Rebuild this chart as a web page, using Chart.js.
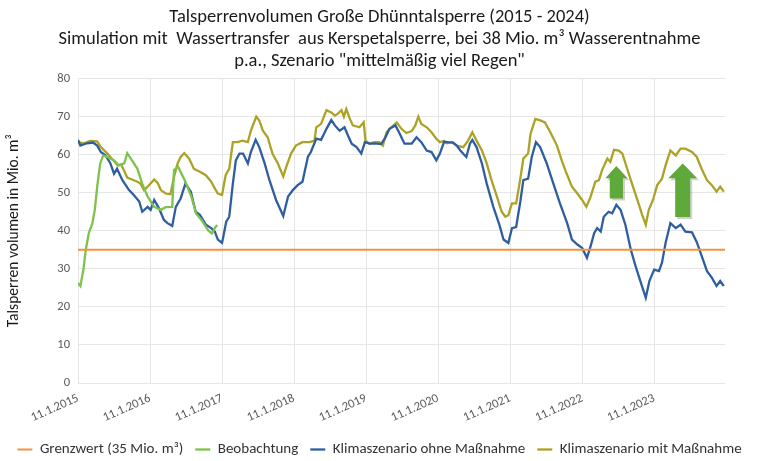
<!DOCTYPE html>
<html>
<head>
<meta charset="utf-8">
<script src="https://cdn.jsdelivr.net/npm/chart.js@4"></script>
<style>
  html, body { margin: 0; padding: 0; background: #fff; }
  #wrap { width: 759px; height: 461px; }
</style>
</head>
<body>
<div id="wrap"><canvas id="myChart" width="759" height="461"></canvas></div>
<script>
// x values are months since 11.1.2015
const yearTicks = ['11.1.2015', '11.1.2016', '11.1.2017', '11.1.2018', '11.1.2019', '11.1.2020', '11.1.2021', '11.1.2022', '11.1.2023'];
const grenzwert = 35;
const lastMonth = 107.8;

const greenMonths = [0, 0.4, 0.9, 1.3, 1.8, 2.4, 2.8, 3.2, 3.7, 4.2, 4.9, 6.0, 6.8, 7.7, 8.2, 9.0, 9.9, 10.7, 11.6, 12.7, 13.8, 14.6, 15.7, 16.0, 16.7, 17.8, 18.9, 19.7, 20.6, 21.7, 22.3, 22.9, 23.2];
const greenValues = [26.3, 25.5, 29.8, 35, 39.4, 42, 45.5, 51.6, 57.7, 59.8, 59.4, 58.5, 57.2, 57.7, 60.4, 58.5, 56.3, 52.4, 49, 46.3, 45.5, 46.2, 46.3, 56.0, 56.8, 53.2, 48.9, 44.5, 42.8, 40.1, 39.3, 41, 41.5];

const blueMonths = [0, 0.4, 1.5, 2.5, 3.2, 3.8, 4.6, 5.4, 6.0, 6.5, 7.4, 8.5, 9.3, 10.2, 10.7, 11.6, 12.1, 12.7, 13.5, 14.3, 14.9, 15.7, 16.3, 17.1, 17.9, 18.8, 19.6, 20.3,
  21.3, 22.2, 22.8, 23.3, 24.0, 24.7, 25.2, 25.8, 26.3, 26.9, 27.5, 28.3, 28.8, 29.6, 30.2, 31.1, 31.9, 33.0, 34.2, 35.0, 35.8, 36.6, 37.4, 38.3, 38.8, 39.7, 40.5,
  41.4, 42.2, 42.8, 43.6, 44.4, 45.0, 45.6, 46.4, 47.2, 47.8, 48.6, 49.4, 50.5, 51.2, 51.9, 52.9, 53.6, 54.4, 55.6, 56.4, 57.2, 58.1, 58.9, 59.7, 60.3, 61.0,
  61.6, 62.5, 63.1, 63.7, 64.7, 65.3, 65.7, 66.4, 67.3, 68.1, 69.2, 70.2, 70.9, 71.7, 72.3, 73.0, 73.7, 74.2, 75.0, 75.6, 76.3, 77.0, 78.1, 79.2, 80.3,
  81.5, 82.3, 83.2, 84.0, 84.8, 85.4, 86.0, 86.5, 87.1, 87.6, 88.4, 89.0, 89.7, 90.4, 91.2, 92.1, 92.9, 93.7, 94.6, 95.2, 96.0, 96.8, 97.3, 97.9, 98.7, 99.6, 100.4, 101.2,
  102.3, 103.1, 103.9, 104.8, 105.6, 106.4, 107.0, 107.6];
const blueValues = [63.9, 62.4, 63.0, 63.2, 62.4, 60.7, 59.8, 57.7, 55.0, 56.3, 53.3, 50.7, 49.4, 47.7, 45.0, 46.3, 45.5, 48.1, 45.9, 42.9, 42.0, 41.3, 46.3, 48.5, 52.4, 50.3, 45.0, 44.2,
  41.6, 40.7, 39.8, 37.7, 36.8, 42.4, 43.7, 52.4, 58.5, 60.3, 60.3, 57.7, 60.7, 63.9, 62.0, 57.7, 53.3, 48.1, 43.9, 49.0, 50.7, 52.0, 52.9, 59.4, 60.7, 64.2, 63.9,
  66.8, 69.1, 67.7, 66.3, 67.2, 65.0, 62.9, 62.0, 60.3, 63.3, 62.9, 63.0, 62.8, 64.5, 66.8, 67.7, 65.5, 62.9, 62.9, 64.6, 63.3, 61.1, 60.7, 58.5, 60.3, 63.4,
  63.3, 63.2, 62.4, 61.1, 59.4, 62.9, 63.9, 62.0, 57.7, 52.4, 46.3, 41.6, 37.7, 36.8, 40.7, 41.0, 47.7, 53.3, 53.7, 59.4, 63.3, 62.0, 57.7, 52.4, 47.2,
  42.0, 37.7, 36.4, 35.5, 32.9, 35.9, 39.4, 40.7, 39.8, 43.7, 45.0, 44.6, 46.8, 45.5, 41.6, 35.1, 30.7, 26.8, 22.4, 26.8, 29.8, 29.4, 31.6, 36.8, 42.0, 40.7, 41.6, 39.8,
  39.6, 37.0, 33.5, 29.4, 27.7, 25.5, 26.8, 25.5];

const goldMonths = [0, 1.0, 2.0, 3.2, 3.8, 4.9, 5.9, 6.6, 7.2, 8.2, 9.3, 9.9, 10.4, 11.0, 11.6, 12.7, 13.3, 13.8, 14.6, 15.4, 16.0, 16.6, 17.1, 17.7, 18.5, 19.3, 20.3,
  21.3, 22.2, 22.7, 23.3, 24.0, 24.6, 25.2, 25.8, 26.6, 27.4, 28.3, 28.8, 29.7, 30.2, 30.8, 31.6, 32.4, 33.3, 34.2, 34.7, 35.5, 36.3, 37.4, 38.6, 39.4, 39.7, 40.5,
  41.4, 42.2, 42.8, 43.3, 43.9, 44.3, 44.7, 45.3, 45.8, 46.9, 47.6, 47.9, 48.6, 49.4, 50.2, 50.8, 51.4, 52.2, 53.1, 53.9, 54.7, 55.6, 56.2, 56.7, 57.2, 58.1, 58.9, 59.7, 60.3, 61.0,
  61.4, 62.3, 63.1, 64.2, 65.0, 65.7, 66.4, 67.3, 68.1, 68.9, 69.8, 70.6, 71.2, 71.7, 72.3, 73.0, 73.7, 74.2, 75.0, 75.4, 76.2, 77.0, 77.8, 78.7, 79.8, 80.6, 81.3,
  82.3, 83.2, 84.0, 84.7, 85.4, 86.2, 86.8, 87.3, 88.2, 88.7, 89.3, 90.1, 90.7, 91.5, 92.3, 93.2, 94.0, 94.6, 95.1, 95.8, 96.5, 97.3, 97.9, 98.7, 99.6, 100.4, 101.2,
  102.3, 103.1, 103.9, 104.8, 105.6, 106.4, 107.0, 107.6];
const goldValues = [63.3, 63.0, 63.6, 63.5, 62.0, 60.3, 58.5, 57.2, 57.4, 54.0, 53.3, 52.9, 52.4, 50.7, 51.6, 53.5, 52.5, 50.7, 49.8, 49.6, 54.2, 57.7, 59.4, 60.4, 59.0, 56.3, 55.5,
  54.6, 52.9, 51.4, 49.8, 49.4, 54.6, 56.3, 63.3, 63.3, 63.7, 63.3, 66.3, 70.0, 69.0, 66.3, 64.6, 60.3, 57.7, 54.3, 56.8, 60.3, 62.4, 63.3, 63.3, 63.7, 67.2, 68.1,
  71.7, 71.1, 70.3, 70.8, 71.7, 70.0, 72.0, 69.4, 67.7, 67.2, 68.5, 63.7, 62.9, 63.3, 63.3, 62.4, 65.9, 67.2, 68.5, 66.8, 65.7, 66.2, 67.7, 70.0, 68.1, 67.2, 65.9, 64.2, 63.3, 63.6,
  63.0, 63.3, 62.4, 62.0, 63.7, 65.9, 63.7, 61.1, 57.7, 53.3, 49.0, 45.0, 43.7, 44.1, 47.2, 47.2, 53.7, 59.0, 60.3, 65.5, 69.4, 69.0, 68.5, 65.9, 62.4, 58.5, 55.5,
  51.6, 49.8, 48.1, 46.3, 48.9, 52.9, 53.3, 55.9, 59.0, 58.1, 61.3, 61.1, 60.3, 56.3, 52.4, 48.1, 44.2, 41.6, 45.5, 48.1, 52.0, 53.7, 57.2, 61.1, 59.8, 61.6, 61.6,
  60.7, 59.4, 56.3, 53.3, 52.0, 50.3, 51.6, 50.3];

// green arrows: month, tip, head base, bottom (Mio. m3)
const arrows = [
  { m: 89.7, tip: 57.0, head: 53.8, base: 48.5, headHalf: 1.85, shaftHalf: 1.1 },
  { m: 100.75, tip: 57.7, head: 53.8, base: 43.6, headHalf: 2.4, shaftHalf: 1.25 }
];

const toPoints = (xs, ys) => xs.map((x, i) => ({ x: x, y: ys[i] }));

const fontFam = "Carlito, Lato, 'Open Sans', sans-serif";

const arrowPlugin = {
  id: 'arrows',
  afterDatasetsDraw(chart) {
    const { ctx, scales: { x, y } } = chart;
    arrows.forEach(a => {
      const cx = x.getPixelForValue(a.m);
      const hw = x.getPixelForValue(a.m + a.headHalf) - cx;
      const sw = x.getPixelForValue(a.m + a.shaftHalf) - cx;
      const yt = y.getPixelForValue(a.tip);
      const yh = y.getPixelForValue(a.head);
      const yb = y.getPixelForValue(a.base);
      const path = (dx, dy) => {
        ctx.beginPath();
        ctx.moveTo(cx + dx, yt + dy);
        ctx.lineTo(cx + hw + dx, yh + dy);
        ctx.lineTo(cx + sw + dx, yh + dy);
        ctx.lineTo(cx + sw + dx, yb + dy);
        ctx.lineTo(cx - sw + dx, yb + dy);
        ctx.lineTo(cx - sw + dx, yh + dy);
        ctx.lineTo(cx - hw + dx, yh + dy);
        ctx.closePath();
      };
      ctx.save();
      ctx.fillStyle = 'rgba(120,120,120,0.35)';
      path(2, 2);
      ctx.fill();
      ctx.fillStyle = '#5FA83A';
      path(0, 0);
      ctx.fill();
      ctx.restore();
    });
  }
};

new Chart(document.getElementById('myChart'), {
  type: 'line',
  data: {
    datasets: [
      {
        label: 'Grenzwert (35 Mio. m³)',
        data: [{ x: 0, y: grenzwert }, { x: lastMonth, y: grenzwert }],
        borderColor: '#F5923E',
        backgroundColor: '#F5923E',
        borderWidth: 2
      },
      {
        label: 'Beobachtung',
        data: toPoints(greenMonths, greenValues),
        borderColor: '#7DC24B',
        backgroundColor: '#7DC24B',
        borderWidth: 2.3
      },
      {
        label: 'Klimaszenario ohne Maßnahme',
        data: toPoints(blueMonths, blueValues),
        borderColor: '#2F5E9E',
        backgroundColor: '#2F5E9E',
        borderWidth: 2.3
      },
      {
        label: 'Klimaszenario mit Maßnahme',
        data: toPoints(goldMonths, goldValues),
        borderColor: '#ACA226',
        backgroundColor: '#ACA226',
        borderWidth: 2.3
      }
    ]
  },
  options: {
    responsive: false,
    animation: false,
    elements: { point: { radius: 0 }, line: { tension: 0 } },
    layout: { padding: { left: 0, right: 0, top: 0, bottom: -6 } },
    plugins: {
      title: {
        display: true,
        text: ['Talsperrenvolumen Große Dhünntalsperre (2015 - 2024)',
               'Simulation mit  Wassertransfer  aus Kerspetalsperre, bei 38 Mio. m³ Wasserentnahme',
               'p.a., Szenario "mittelmäßig viel Regen"'],
        color: '#1a1a1a',
        font: { family: fontFam, size: 18.5, weight: 'normal', lineHeight: 1.2 },
        padding: { top: 6, bottom: 6 }
      },
      legend: {
        position: 'bottom',
        labels: {
          usePointStyle: true,
          pointStyle: 'line',
          pointStyleWidth: 15,
          boxHeight: 15,
          padding: 12,
          color: '#333333',
          font: { family: fontFam, size: 15 }
        }
      },
      tooltip: { enabled: false }
    },
    scales: {
      x: {
        type: 'linear',
        min: 0,
        max: lastMonth,
        border: { display: false },
        grid: { color: '#e6e6e6', drawTicks: false },
        ticks: {
          stepSize: 12,
          minRotation: 24,
          maxRotation: 24,
          padding: 8,
          color: '#595959',
          font: { family: fontFam, size: 12.5 },
          callback: v => yearTicks[v / 12]
        },
        afterFit: s => { s.height = 47; }
      },
      y: {
        min: 0,
        max: 80,
        border: { display: false },
        grid: { color: '#e6e6e6', drawTicks: false },
        ticks: {
          stepSize: 10,
          padding: 8,
          color: '#595959',
          font: { family: fontFam, size: 12.5 }
        },
        title: {
          display: true,
          text: 'Talsperren volumen in Mio. m³',
          color: '#1a1a1a',
          font: { family: fontFam, size: 15.5 },
          padding: { top: 5, bottom: 4 }
        },
        afterFit: s => { s.width = 78; }
      },
      // empty right-hand margin box so the plot ends where the reference does
      rightGap: {
        position: 'right',
        border: { display: false },
        grid: { display: false },
        ticks: { display: false },
        afterFit: s => { s.width = 34; }
      }
    }
  },
  plugins: [arrowPlugin]
});
</script>
</body>
</html>
